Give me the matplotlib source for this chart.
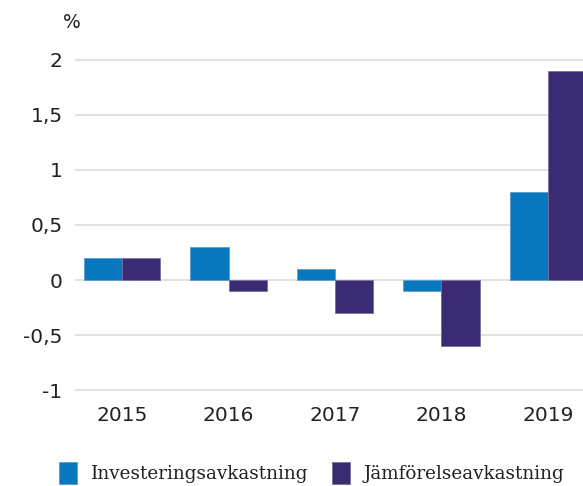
import matplotlib
matplotlib.use("Agg")
import matplotlib.pyplot as plt
import numpy as np

years = ["2015", "2016", "2017", "2018", "2019"]
invest = [0.2, 0.3, 0.1, -0.1, 0.8]
jamfor = [0.2, -0.1, -0.3, -0.6, 1.9]
yticks = [-1, -0.5, 0, 0.5, 1, 1.5, 2]
ytick_labels = ["-1", "-0,5", "0", "0,5", "1", "1,5", "2"]
series_names = ["Investeringsavkastning", "Jämförelseavkastning"]

blue = "#0777BE"
purple = "#3A2B72"

fig = plt.figure(figsize=(5.83, 4.86), dpi=100)
ax = fig.add_axes([75/583, 1 - 400/486, 1 - 75/583, 350/486])

x = np.arange(len(years))
w = 0.36
ax.bar(x - w/2, invest, w, color=blue, edgecolor="#5a9fd0", linewidth=0.6, zorder=3, label=series_names[0])
ax.bar(x + w/2, jamfor, w, color=purple, edgecolor="#7a6fa0", linewidth=0.6, zorder=3, label=series_names[1])

ax.set_xlim(-0.443, 4.33)
ax.set_ylim(-1.09, 2.09)
ax.set_yticks(yticks)
ax.set_yticklabels(ytick_labels)
ax.yaxis.grid(True, color="#dddddd", linewidth=1.2, zorder=0)
ax.set_xticks(x)
ax.set_xticklabels(years)
for s in ax.spines.values():
    s.set_visible(False)
ax.tick_params(axis="both", length=0, labelsize=14.5, colors="#222222")
ax.tick_params(axis="y", pad=9)
ax.tick_params(axis="x", pad=4)
for lab in ax.get_xticklabels() + ax.get_yticklabels():
    lab.set_fontfamily("DejaVu Sans")

fig.text(72/583, 1 - 22/486, "%", ha="center", va="center", fontsize=13.5, color="#222222")

leg = fig.legend(loc="lower left", bbox_to_anchor=(42/583, -0.03), ncol=2, frameon=False,
                 prop={"family": "DejaVu Serif", "size": 13.2}, handlelength=1.0, handleheight=1.45,
                 columnspacing=1.3, handletextpad=0.75)
for t in leg.get_texts():
    t.set_color("#222222")

fig.savefig("out.png", dpi=100)
